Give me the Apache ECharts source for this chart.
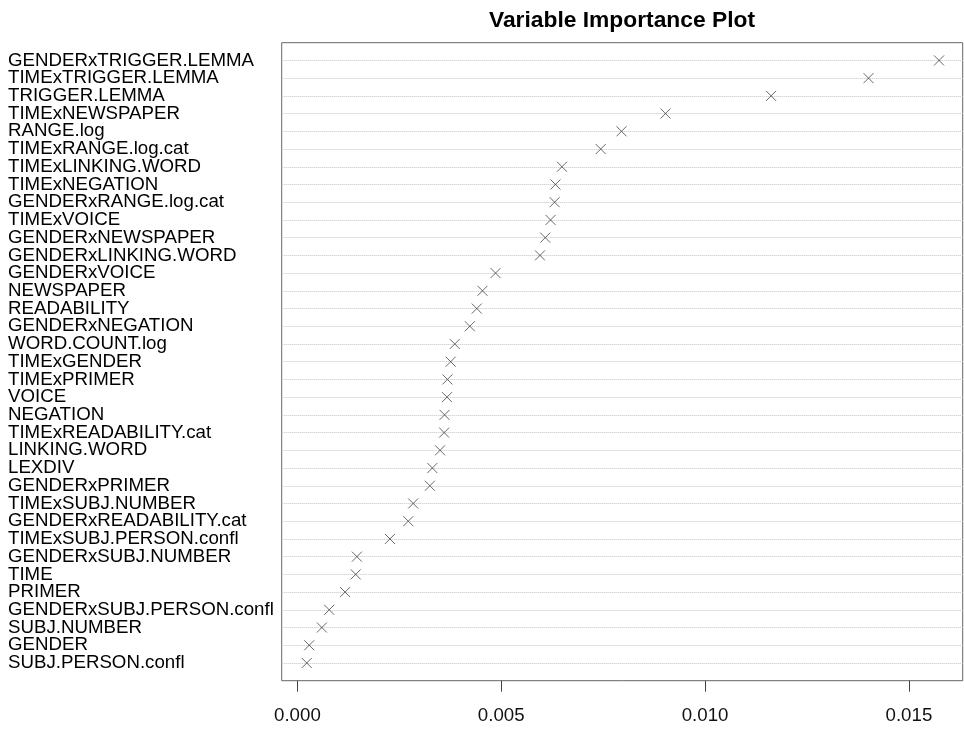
<!DOCTYPE html>
<html>
    <head>
        <meta charset="utf-8">
        <title>Variable Importance Plot</title>
        <script src="https://cdn.jsdelivr.net/npm/echarts@6/dist/echarts.min.js"></script>
    </head>
    <body style="margin:0;background:#fff;">
        <div id="main" style="width:964px;height:731px;"></div>

        <script type="text/javascript">
            // variables, top to bottom
            var variables = [
                'GENDERxTRIGGER.LEMMA', 'TIMExTRIGGER.LEMMA', 'TRIGGER.LEMMA', 'TIMExNEWSPAPER',
                'RANGE.log', 'TIMExRANGE.log.cat', 'TIMExLINKING.WORD', 'TIMExNEGATION',
                'GENDERxRANGE.log.cat', 'TIMExVOICE', 'GENDERxNEWSPAPER', 'GENDERxLINKING.WORD',
                'GENDERxVOICE', 'NEWSPAPER', 'READABILITY', 'GENDERxNEGATION',
                'WORD.COUNT.log', 'TIMExGENDER', 'TIMExPRIMER', 'VOICE',
                'NEGATION', 'TIMExREADABILITY.cat', 'LINKING.WORD', 'LEXDIV',
                'GENDERxPRIMER', 'TIMExSUBJ.NUMBER', 'GENDERxREADABILITY.cat', 'TIMExSUBJ.PERSON.confl',
                'GENDERxSUBJ.NUMBER', 'TIME', 'PRIMER', 'GENDERxSUBJ.PERSON.confl',
                'SUBJ.NUMBER', 'GENDER', 'SUBJ.PERSON.confl'
            ];
            // importance values
            var importance = [
                0.01574, 0.01401, 0.01162, 0.00903,
                0.00795, 0.00744, 0.00649, 0.00633,
                0.00631, 0.00621, 0.00608, 0.00595,
                0.00486, 0.00454, 0.00440, 0.00423,
                0.00386, 0.00376, 0.00368, 0.00367,
                0.00361, 0.00360, 0.00350, 0.00331,
                0.00325, 0.00284, 0.00272, 0.00227,
                0.00146, 0.00143, 0.00117, 0.00078,
                0.00060, 0.00029, 0.00023
            ];
            var xTicks = [0, 0.005, 0.010, 0.015];

            // dotchart style: row i sits at y = i + 1, with one row of padding each side
            var points = [];
            for (var i = 0; i < importance.length; i++) {
                points.push([importance[i], i + 1]);
            }

            var font = '"Liberation Sans", Arial, Helvetica, sans-serif';
            var myChart = echarts.init(document.getElementById('main'), null, {renderer: 'canvas'});
            myChart.setOption({
                animation: false,
                backgroundColor: '#fff',
                title: {
                    text: 'Variable Importance Plot',
                    left: 617, top: 4, textAlign: 'center',
                    textStyle: {fontFamily: font, fontSize: 22.8, fontWeight: 'bold', color: '#000'}
                },
                grid: {
                    left: 281.7, right: 1.3, top: 42.7, bottom: 50.3,
                    show: true, borderColor: '#666', borderWidth: 1, backgroundColor: 'transparent'
                },
                xAxis: {
                    type: 'value',
                    position: 'bottom',
                    min: -0.000385,
                    max: 0.01632,
                    axisLine: {show: false, onZero: false},
                    splitLine: {show: false},
                    axisTick: {show: true, length: 11, customValues: xTicks, lineStyle: {color: '#444'}},
                    axisLabel: {
                        customValues: xTicks,
                        margin: 26,
                        fontFamily: font, fontSize: 18.7, color: '#111',
                        formatter: function (v) { return v.toFixed(3); }
                    }
                },
                yAxis: {
                    type: 'value',
                    inverse: true,
                    min: 0,
                    max: variables.length + 1,
                    interval: 1,
                    axisLine: {show: false},
                    axisTick: {show: false},
                    splitLine: {
                        show: true, showMinLine: false, showMaxLine: false,
                        lineStyle: {color: '#c4c4c4', type: 'dotted', width: 1}
                    },
                    axisLabel: {
                        align: 'left',
                        margin: 273.7,
                        fontFamily: font, fontSize: 18.7, color: '#000',
                        formatter: function (v) { return variables[v - 1] || ''; }
                    }
                },
                series: [{
                    type: 'scatter',
                    data: points,
                    symbol: 'path://M0,0L10,10M10,0L0,10',
                    symbolSize: 10,
                    itemStyle: {color: 'none', borderColor: '#444', borderWidth: 1}
                }]
            });
        </script>
    </body>
</html>
